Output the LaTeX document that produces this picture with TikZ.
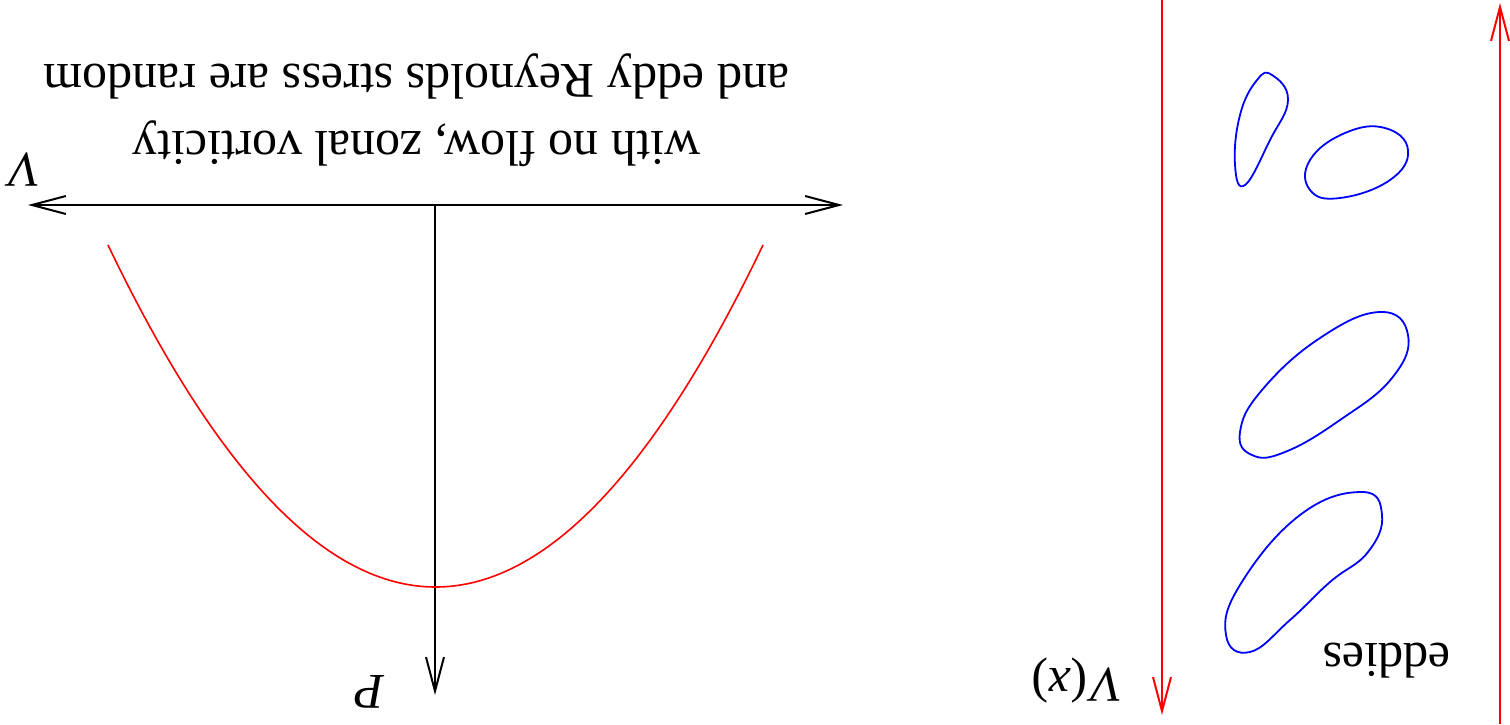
\documentclass[tikz,border=0pt]{standalone}
\usepackage{fontspec}
\setmainfont{Liberation Serif}
\usetikzlibrary{arrows.meta}
\tikzset{
  tip/.style={-{Straight Barb[length=17pt,width=9pt,line width=1pt]}},
  axis/.style={black,line width=1pt},
  flow/.style={red,line width=0.9pt},
  eddy/.style={blue,line width=0.9pt},
  lbl/.style={rotate=180,anchor=base,inner sep=0pt,font=\fontsize{25}{30}\selectfont},
}
\begin{document}
\begin{tikzpicture}[x=0.5pt,y=-0.5pt]
\useasboundingbox (0,0) rectangle (1510,724);
% axes
\coordinate (hl) at (28,205);
\coordinate (hr) at (843,205);
\coordinate (o) at (435,205);
\coordinate (pd) at (435,695);
\draw[axis,{Straight Barb[length=17pt,width=9pt,line width=1pt]}-{Straight Barb[length=17pt,width=9pt,line width=1pt]}] (hl) -- (hr);
\draw[axis,tip] (o) -- (pd);
% parabola
\coordinate (cl) at (108,245);
\coordinate (cr) at (763,245);
\draw[red,line width=0.8pt] (cl) .. controls (326.3,701) and (544.7,701) .. (cr);
% labels
\node[lbl] (lv) at (23,153) {\textit{V}};
\node[lbl] (lp) at (369,675) {\textit{P}};
\node[rotate=180,anchor=center,inner sep=0pt,align=center,font=\fontsize{25}{33.5}\selectfont] (title) at (416.5,110) {with no flow, zonal vorticity\\and eddy Reynolds stress are random};
% red flow lines
\coordinate (r1t) at (1162,0);
\coordinate (r1b) at (1162,715);
\coordinate (r2b) at (1500,724);
\coordinate (r2t) at (1500,3);
\draw[flow,tip] (r1t) -- (r1b);
\draw[flow,tip] (r2b) -- (r2t);
\node[lbl] (lvx) at (1077,668) {\textit{V}(\textit{x})};
\node[lbl] (led) at (1387,643) {eddies};
% eddies
\draw[eddy] plot[smooth cycle,tension=0.75] coordinates {(1272,75) (1288,100) (1270,140) (1245,185) (1235,165) (1240,115) (1257,80)};
\draw[eddy] plot[smooth cycle,tension=0.75] coordinates {(1310,160) (1345,133) (1385,128) (1408,150) (1390,180) (1340,198) (1310,190)};
\draw[eddy] plot[smooth cycle,tension=0.75] coordinates {(1380,312) (1408,335) (1392,378) (1340,420) (1285,452) (1252,455) (1240,432) (1262,390) (1320,338)};
\draw[eddy] plot[smooth cycle,tension=0.75] coordinates {(1362,492) (1382,515) (1368,552) (1330,582) (1290,620) (1250,652) (1226,635) (1240,585) (1300,515)};
\end{tikzpicture}
\end{document}
